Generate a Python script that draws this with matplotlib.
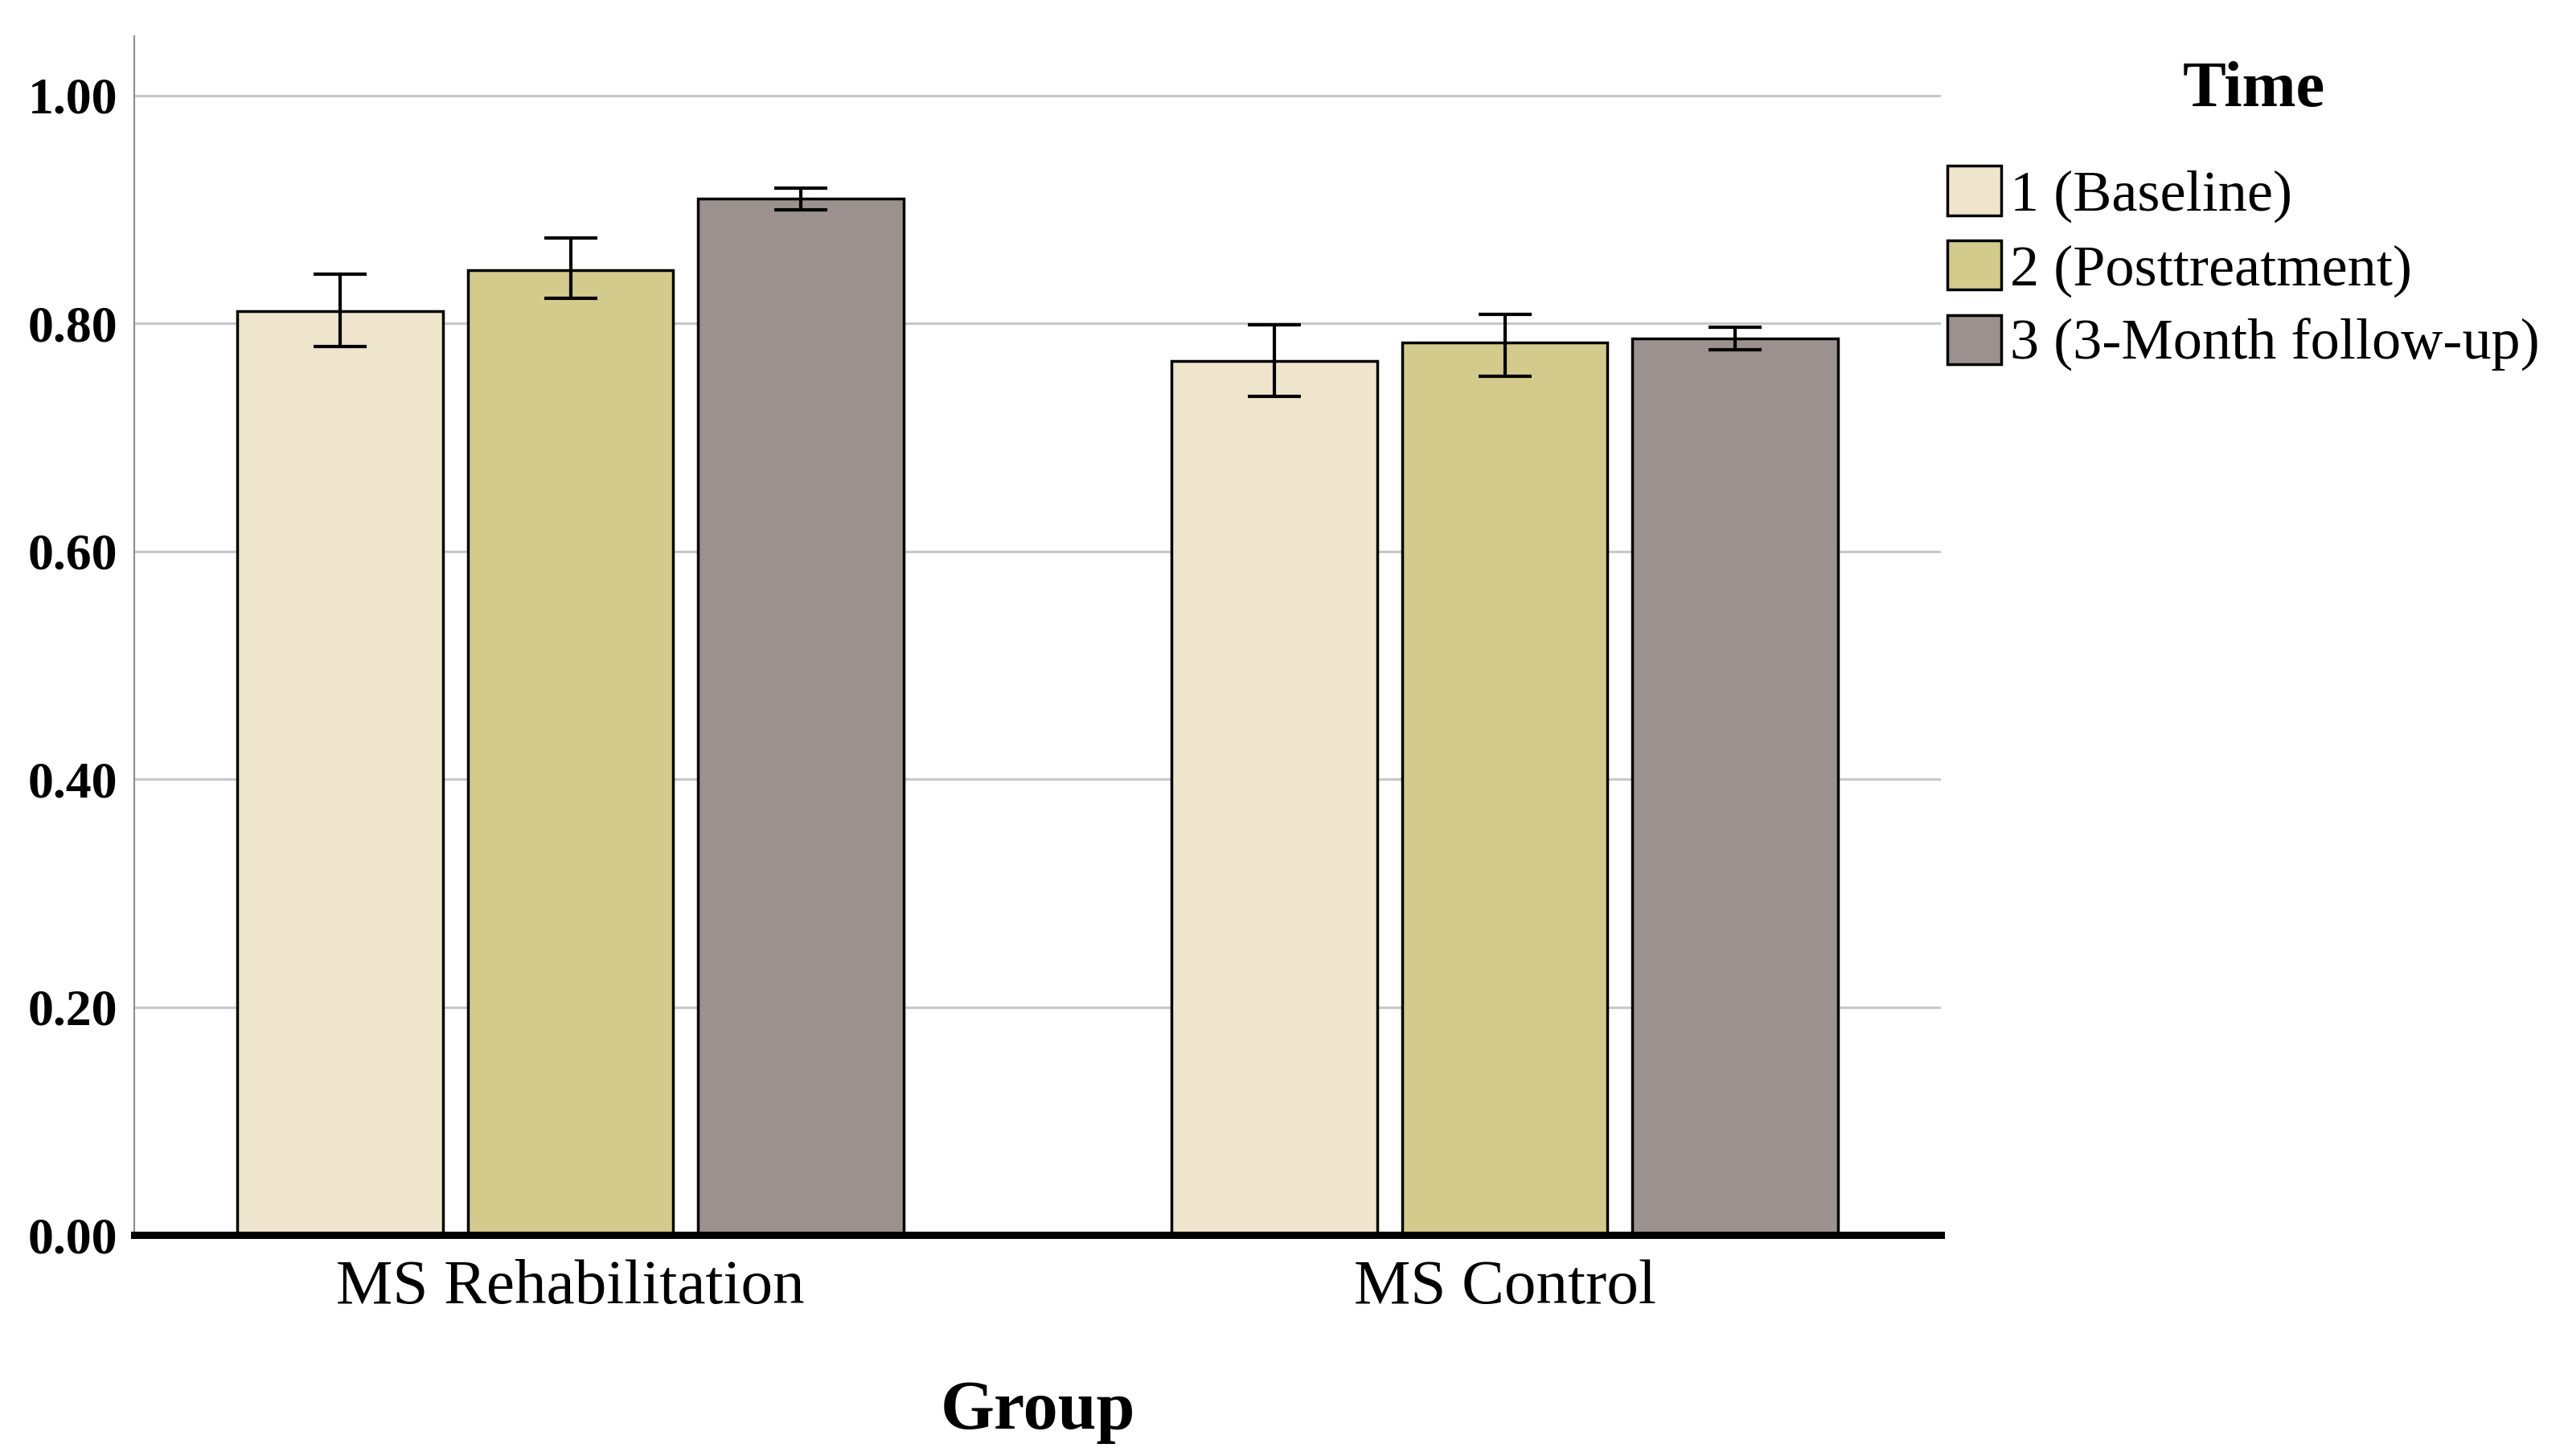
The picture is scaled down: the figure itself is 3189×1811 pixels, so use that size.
import numpy as np
import matplotlib
matplotlib.use('Agg')
import matplotlib.pyplot as plt
from matplotlib.patches import Patch

plt.rcParams['font.family'] = ['Liberation Serif', 'DejaVu Serif']

# data
groups = ['MS Rehabilitation', 'MS Control']
times = ['1 (Baseline)', '2 (Posttreatment)', '3 (3-Month follow-up)']
means = [[0.811, 0.847, 0.910],
         [0.767, 0.783, 0.787]]
err_low = [[0.780, 0.822, 0.900],
           [0.736, 0.754, 0.777]]
err_high = [[0.843, 0.875, 0.919],
            [0.799, 0.808, 0.797]]
colors = ['#EFE5CD', '#D3CB8B', '#9B9290']
yticks = [0.0, 0.2, 0.4, 0.6, 0.8, 1.0]

fig = plt.figure(figsize=(31.89, 18.11), dpi=100)
ax = fig.add_axes([0.0524, 0.1518, 0.7046, 0.8232])

x = np.arange(len(groups))
step = 0.2465
width = 0.22
for i, t in enumerate(times):
    vals = np.array([m[i] for m in means])
    lo = vals - np.array([e[i] for e in err_low])
    hi = np.array([e[i] for e in err_high]) - vals
    pos = x + (i - 1) * step
    ax.bar(pos, vals, width, color=colors[i], edgecolor='black', linewidth=2.5, zorder=3)
    ax.errorbar(pos, vals, yerr=[lo, hi], fmt='none', ecolor='black',
                elinewidth=3, capsize=24, capthick=3, zorder=4)

ax.set_xlim(-0.467, 1.467)
ax.set_ylim(0, 1.052)
ax.set_yticks(yticks)
ax.set_yticklabels(['%.2f' % v for v in yticks], fontweight='bold', fontsize=46)
ax.set_xticks(x)
ax.set_xticklabels(groups, fontsize=57)
ax.tick_params(axis='both', length=0)
ax.tick_params(axis='y', pad=15)
ax.tick_params(axis='x', pad=22)
ax.yaxis.grid(True, color='#C8C8C8', linewidth=2.2, zorder=0)
ax.set_axisbelow(True)

for s in ['top', 'right']:
    ax.spines[s].set_visible(False)
ax.spines['left'].set_color('#8C8C8C')
ax.spines['left'].set_linewidth(1.5)
ax.spines['bottom'].set_color('black')
ax.spines['bottom'].set_linewidth(6.5)
ax.spines['bottom'].set_zorder(5)

ax.set_xlabel('Group', fontsize=62, fontweight='bold', labelpad=57)

handles = [Patch(facecolor=c, edgecolor='black', linewidth=2.5) for c in colors]
fig.legend(handles, times, loc='upper left', bbox_to_anchor=(0.7595, 0.886),
           frameon=False, fontsize=52, handlelength=0.93, handleheight=0.93,
           handletextpad=0.15, labelspacing=0.3, borderaxespad=0, borderpad=0)
fig.text(0.879, 0.938, 'Time', fontsize=58, fontweight='bold', ha='center', va='center')

fig.savefig('out.png', dpi=100)
